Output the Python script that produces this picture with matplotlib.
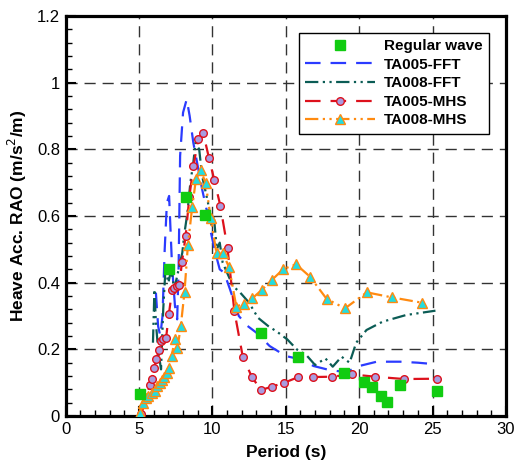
import matplotlib
matplotlib.use("Agg")
import matplotlib.pyplot as plt
from matplotlib.ticker import MultipleLocator

plt.rcParams['font.family'] = ['Liberation Sans', 'DejaVu Sans']

# Regular wave
reg_x = [5.07, 7.05, 8.2, 9.5, 13.3, 15.86, 19.0, 20.3, 20.9, 21.5, 21.9, 22.8, 25.3]
reg_y = [0.066, 0.44, 0.656, 0.603, 0.248, 0.176, 0.128, 0.103, 0.086, 0.061, 0.043, 0.093, 0.076]

# TA005-FFT
fft5_x = [6.15, 6.3, 6.45, 6.6, 6.75, 6.9, 7.05, 7.25, 7.45, 7.6, 7.7, 7.8, 8.0, 8.25,
          8.45, 8.7, 9.0, 9.3, 9.6, 9.9, 10.2, 10.5, 10.8, 11.2, 11.8, 12.4, 13.0, 13.9,
          15.0, 16.0, 16.9, 17.8, 18.5, 19.2, 20.0, 21.2, 22.8, 24.0, 25.3]
fft5_y = [0.37, 0.27, 0.24, 0.30, 0.50, 0.64, 0.66, 0.45, 0.33, 0.29, 0.45, 0.78, 0.91, 0.95,
          0.90, 0.82, 0.75, 0.68, 0.62, 0.55, 0.49, 0.44, 0.43, 0.38, 0.30, 0.27, 0.25, 0.21,
          0.18, 0.17, 0.15, 0.14, 0.135, 0.133, 0.15, 0.163, 0.163, 0.16, 0.155]

# TA008-FFT
fft8_x = [5.95, 6.05, 6.15, 6.3, 6.5, 6.65, 6.8, 7.0, 7.2, 7.4, 7.6, 7.8, 7.95, 8.1, 8.3,
          8.5, 8.7, 8.85, 9.1, 9.3, 9.5, 9.7, 9.9, 10.1, 10.3, 10.5, 10.7, 11.0, 11.4, 11.9,
          12.5, 13.1, 13.8, 14.4, 15.1, 15.75, 16.4, 17.0, 17.7, 18.2, 18.8, 19.35, 19.8,
          20.5, 21.6, 23.2, 25.2]
fft8_y = [0.22, 0.38, 0.28, 0.20, 0.14, 0.32, 0.44, 0.40, 0.44, 0.38, 0.42, 0.46, 0.49, 0.55, 0.61,
          0.70, 0.76, 0.82, 0.80, 0.72, 0.68, 0.64, 0.57, 0.60, 0.50, 0.52, 0.46, 0.43, 0.39, 0.37,
          0.34, 0.295, 0.27, 0.253, 0.23, 0.20, 0.183, 0.153, 0.173, 0.148, 0.178, 0.16, 0.22,
          0.258, 0.283, 0.303, 0.316]

# TA005-MHS
mhs5_x = [5.15, 5.45, 5.75, 5.9, 6.03, 6.19, 6.34, 6.5, 6.65, 6.84, 7.04, 7.25, 7.4, 7.59,
          7.75, 7.93, 8.18, 8.43, 8.71, 9.04, 9.37, 9.76, 10.13, 10.54, 11.03, 11.5, 12.07,
          12.68, 13.31, 14.04, 14.9, 15.86, 16.88, 18.13, 19.5, 21.08, 23.06, 25.33]
mhs5_y = [0.005, 0.05, 0.094, 0.112, 0.145, 0.17, 0.197, 0.225, 0.23, 0.233, 0.307, 0.377, 0.384,
          0.39, 0.394, 0.463, 0.541, 0.658, 0.75, 0.831, 0.85, 0.775, 0.708, 0.631, 0.503, 0.314,
          0.178, 0.118, 0.078, 0.088, 0.1, 0.117, 0.117, 0.118, 0.125, 0.118, 0.111, 0.112]

# TA008-MHS
mhs8_x = [5.07, 5.3, 5.47, 5.63, 5.86, 6.07, 6.24, 6.4, 6.56, 6.72, 6.88, 7.04, 7.23, 7.43,
          7.62, 7.85, 8.1, 8.33, 8.62, 8.88, 9.21, 9.54, 9.89, 10.28, 10.69, 11.14, 11.63,
          12.12, 12.72, 13.36, 14.05, 14.84, 15.7, 16.65, 17.79, 19.04, 20.52, 22.22, 24.27]
mhs8_y = [0.008, 0.038, 0.055, 0.06, 0.07, 0.075, 0.09, 0.1, 0.108, 0.118, 0.128, 0.144, 0.18,
          0.23, 0.204, 0.271, 0.373, 0.512, 0.626, 0.71, 0.737, 0.698, 0.593, 0.488, 0.49, 0.446,
          0.328, 0.337, 0.353, 0.378, 0.408, 0.441, 0.455, 0.418, 0.351, 0.323, 0.371, 0.356, 0.34]

x_ticks = [0, 5, 10, 15, 20, 25, 30]
x_ticklabels = ['0', '5', '10', '15', '20', '25', '30']
y_ticks = [0, 0.2, 0.4, 0.6, 0.8, 1.0, 1.2]
y_ticklabels = ['0', '0.2', '0.4', '0.6', '0.8', '1', '1.2']

fig = plt.figure(figsize=(5.21, 4.68), dpi=100)
ax = fig.add_axes([0.126, 0.111, 0.845, 0.855])

ax.plot(reg_x, reg_y, linestyle='none', marker='s', markersize=7,
        markerfacecolor='#11cc11', markeredgecolor='#11cc11', label='Regular wave', zorder=5)
ax.plot(fft5_x, fft5_y, color='#2b3bff', lw=1.6, linestyle=(0, (7, 4.5)),
        label='TA005-FFT', zorder=3)
ax.plot(fft8_x, fft8_y, color='#0b5c55', lw=1.6, linestyle=(0, (6, 2, 1, 2, 1, 2)),
        label='TA008-FFT', zorder=3)
ax.plot(mhs5_x, mhs5_y, color='#dd111c', lw=1.6, linestyle=(0, (7, 4.5)),
        marker='o', markersize=5.5, markerfacecolor='#a89ce0', markeredgecolor='#dd111c',
        markeredgewidth=1.0, label='TA005-MHS', zorder=4)
ax.plot(mhs8_x, mhs8_y, color='#ff8a10', lw=1.6, linestyle=(0, (6, 2, 1, 2, 1, 2)),
        marker='^', markersize=6.5, markerfacecolor='#22dde0', markeredgecolor='#ff8a10',
        markeredgewidth=1.0, label='TA008-MHS', zorder=4)

ax.set_xlim(0, 30)
ax.set_ylim(0, 1.2)
ax.set_xticks(x_ticks)
ax.set_xticklabels(x_ticklabels)
ax.set_yticks(y_ticks)
ax.set_yticklabels(y_ticklabels)
ax.xaxis.set_minor_locator(MultipleLocator(1))
ax.yaxis.set_minor_locator(MultipleLocator(0.04))

ax.grid(True, which='major', color='#333333', linestyle=(0, (8, 5)), lw=1.0, zorder=0)
ax.set_axisbelow(True)

ax.tick_params(which='both', direction='in', top=False, right=False, labelsize=12,
               width=1.5, pad=4)
ax.tick_params(which='major', length=7)
ax.tick_params(which='minor', length=4, width=1.0)
for s in ax.spines.values():
    s.set_linewidth(2.3)

ax.set_xlabel('Period (s)', fontsize=12.5, fontweight='bold', labelpad=6)
ax.set_ylabel('Heave Acc. RAO (m/s$^2$/m)', fontsize=12.5, fontweight='bold', labelpad=6)

leg = ax.legend(loc='upper right', bbox_to_anchor=(489 / 521, 1 - 33 / 468),
                bbox_transform=fig.transFigure, borderaxespad=0, frameon=True,
                fancybox=False, edgecolor='black', framealpha=1, numpoints=1,
                handlelength=4.6, handletextpad=0.6, labelspacing=0.3,
                borderpad=0.4, prop={'weight': 'bold', 'size': 11})
leg.get_frame().set_linewidth(1.0)

fig.savefig('out.png', dpi=100)
